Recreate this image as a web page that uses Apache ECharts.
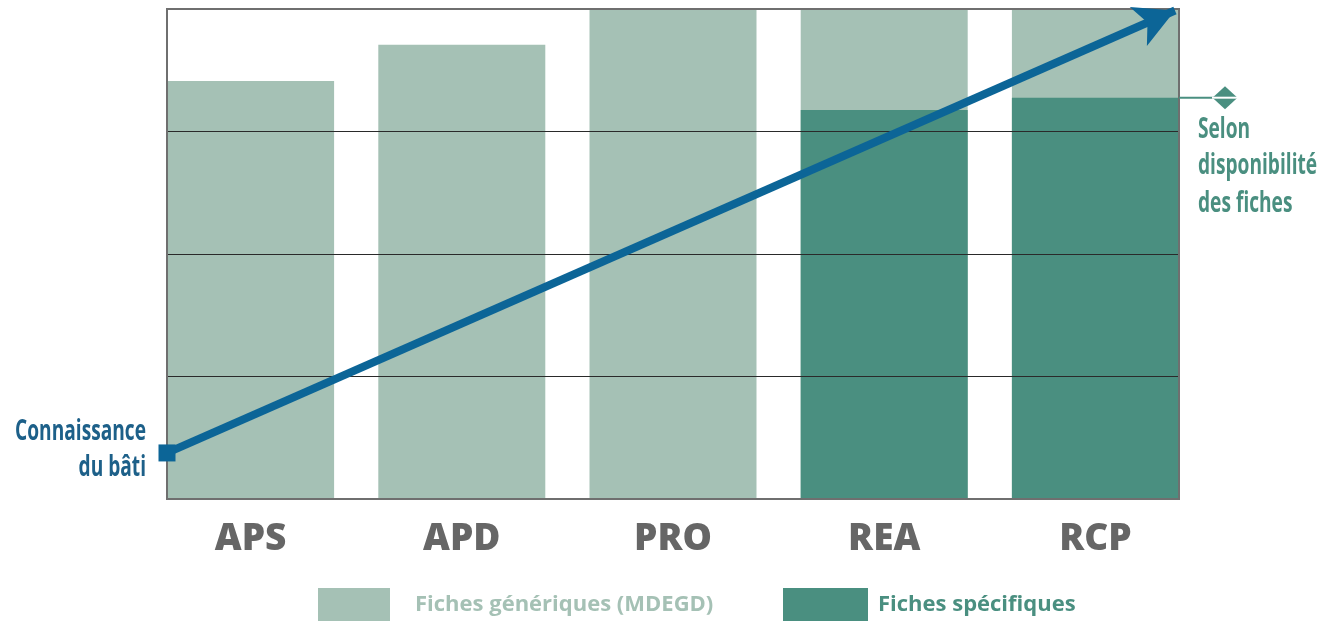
<!DOCTYPE html>
<html><head><meta charset="utf-8">
<script src="https://cdn.jsdelivr.net/npm/echarts@6/dist/echarts.min.js"></script>
<style>html,body{margin:0;padding:0;background:#fff}#c{width:1331px;height:621px}</style>
</head><body><div id="c"></div>
<script>
const categories = ['APS', 'APD', 'PRO', 'REA', 'RCP'];
const genericValues = [85.3, 92.7, 100, 100, 100];
const specificValues = [null, null, null, 79.4, 81.9];
const yTicks = [0, 25, 50, 75, 100];
const arrowStart = [0, 9.4];
const arrowEnd = [99.6, 99.7];
const seriesNames = ['Fiches génériques (MDEGD)', 'Fiches spécifiques'];
const leftLabel = ['Connaissance', 'du bâti'];
const rightLabel = ['Selon', 'disponibilité', 'des fiches'];

const LIGHT = '#a5c1b5', DARK = '#4a8f80', BLUE = '#0c6597', TXTBLUE = '#1d6089';
const F = "'Open Sans',sans-serif";

const chart = echarts.init(document.getElementById('c'), null, {renderer: 'canvas'});
chart.setOption({
  animation: false,
  backgroundColor: '#fff',
  grid: [
    {left: 145, right: 130, top: 9, bottom: 122},
    {left: 167, right: 152, top: 9, bottom: 122, show: true, z: 10,
     backgroundColor: 'transparent', borderColor: '#6f6f6f', borderWidth: 2}
  ],
  xAxis: [
    {type: 'category', gridIndex: 0, data: categories, boundaryGap: true,
     axisLine: {show: false}, axisTick: {show: false},
     axisLabel: {margin: 22, fontSize: 37, fontWeight: 800, color: '#666', fontFamily: F}},
    {type: 'value', gridIndex: 1, min: 0, max: 100, show: false}
  ],
  yAxis: [
    {type: 'value', gridIndex: 0, min: 0, max: 100, show: false},
    {type: 'value', gridIndex: 1, min: yTicks[0], max: yTicks[yTicks.length - 1], interval: 25, z: 4,
     axisLine: {show: false}, axisTick: {show: false}, axisLabel: {show: false},
     splitLine: {show: true, lineStyle: {color: ['#6f6f6f', '#2a2a2a', '#2a2a2a', '#2a2a2a', '#6f6f6f'], width: 1}}}
  ],
  legend: [
    {left: 318, top: 588, padding: 0, itemWidth: 72, itemHeight: 34, itemGap: 0, icon: 'rect',
     data: [{name: seriesNames[0], textStyle: {color: LIGHT}}],
     textStyle: {fontSize: 22, fontWeight: 'bold', fontFamily: F, padding: [0, 0, 0, 20]}},
    {left: 783, top: 588, padding: 0, itemWidth: 85, itemHeight: 34, itemGap: 0, icon: 'rect',
     data: [{name: seriesNames[1], textStyle: {color: DARK}}],
     textStyle: {fontSize: 22, fontWeight: 'bold', fontFamily: F, padding: [0, 0, 0, 5]}}
  ],
  series: [
    {name: seriesNames[0], type: 'bar', xAxisIndex: 0, yAxisIndex: 0, data: genericValues,
     barWidth: 167, barGap: '-100%', itemStyle: {color: LIGHT}, z: 2},
    {name: seriesNames[1], type: 'bar', xAxisIndex: 0, yAxisIndex: 0, data: specificValues,
     barWidth: 167, barGap: '-100%', itemStyle: {color: DARK}, z: 3},
    {type: 'line', xAxisIndex: 1, yAxisIndex: 1, data: [], z: 20,
     markLine: {silent: true, animation: false, z: 20,
       lineStyle: {color: BLUE, width: 8, type: 'solid'},
       label: {show: false},
       data: [[
         {coord: arrowStart, symbol: 'none'},
         {coord: arrowEnd, symbol: 'arrow', symbolSize: [32, 40]}
       ]]}},
    {type: 'scatter', xAxisIndex: 1, yAxisIndex: 1, data: [arrowStart], symbol: 'rect', symbolSize: 17,
     itemStyle: {color: BLUE, opacity: 1}, z: 21, silent: true}
  ]
});

const p0 = chart.convertToPixel({gridIndex: 1}, arrowStart);
const ry = chart.convertToPixel({seriesIndex: 1}, [categories[4], specificValues[4]])[1];
const rx = chart.convertToPixel({gridIndex: 1}, [100, 0])[0];
const SX = 0.66;
function txt(t, x, y, color, align) {
  return {type: 'text', x: x, y: y, scaleX: SX, z: 30,
    style: {x: 0, y: 0, text: t, fill: color, font: 'bold 29px ' + F, textAlign: align, textVerticalAlign: 'middle'}};
}
const g = [];
g.push(txt(leftLabel[0], p0[0] - 21, p0[1] - 21, TXTBLUE, 'right'));
g.push(txt(leftLabel[1], p0[0] - 21, p0[1] + 15, TXTBLUE, 'right'));
g.push({type: 'line', z: 30, shape: {x1: rx, y1: ry, x2: rx + 35, y2: ry}, style: {stroke: DARK, lineWidth: 2}});
const dx = rx + 46;
g.push({type: 'polygon', z: 30, shape: {points: [[dx - 12.5, ry], [dx, ry - 11.5], [dx + 12.5, ry], [dx, ry + 11.5]]}, style: {fill: DARK}});
g.push({type: 'line', z: 31, shape: {x1: dx - 13, y1: ry, x2: dx + 13, y2: ry}, style: {stroke: '#fff', lineWidth: 2}});
const offs = [32, 68, 106];
rightLabel.forEach((t, i) => g.push(txt(t, rx + 19, ry + offs[i], DARK, 'left')));
chart.setOption({graphic: g});
</script></body></html>
